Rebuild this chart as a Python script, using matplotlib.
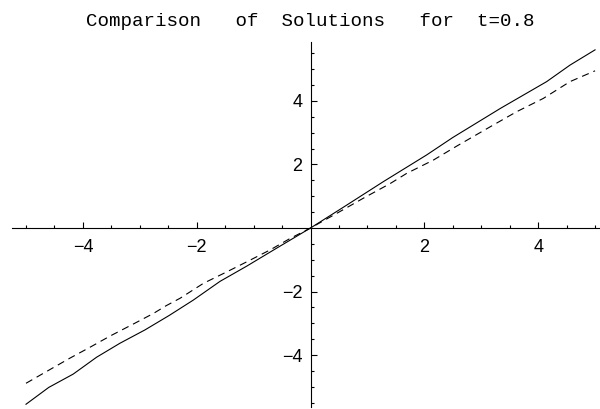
import numpy as np
import matplotlib.pyplot as plt

# approximate solution (solid) and reference solution (dashed) at t = 0.8
x_solid = [-5.0, -4.6, -4.17, -3.76, -3.35, -2.91, -2.48, -2.06, -1.59, -1.12,
           -0.6, 0.0, 0.6, 1.28, 2.04, 2.5, 3.34, 4.15, 4.56, 5.0]
y_solid = [-5.55, -5.02, -4.60, -4.07, -3.63, -3.21, -2.75, -2.27, -1.68, -1.20,
           -0.64, 0.0, 0.68, 1.46, 2.30, 2.85, 3.77, 4.61, 5.13, 5.61]

x_dash = [-5.0, -4.64, -4.23, -3.88, -3.52, -3.11, -2.76, -2.54, -2.29, -1.88,
          -1.47, -1.06, -0.71, -0.36, 0.0, 0.46, 0.93, 1.40, 1.69, 2.16,
          2.57, 3.16, 3.62, 4.09, 4.56, 5.0]
y_dash = [-4.89, -4.52, -4.10, -3.76, -3.40, -3.02, -2.69, -2.45, -2.21, -1.74,
          -1.38, -1.01, -0.69, -0.33, 0.0, 0.46, 0.94, 1.40, 1.72, 2.14,
          2.58, 3.19, 3.66, 4.08, 4.61, 4.95]

major = [-4, -2, 2, 4]
title = "Comparison   of  Solutions   for  t=0.8"

fig = plt.figure(figsize=(6.0, 4.09), dpi=100)
ax = fig.add_axes([0, 0, 1, 1])
ax.set_xlim(-5.457, 5.087)
ax.set_ylim(-5.70, 7.18)

ax.plot(x_solid, y_solid, color="black", lw=0.8)
ax.plot(x_dash, y_dash, color="black", lw=0.8, linestyle=(0, (6.5, 4.5)))

for side in ("top", "right"):
    ax.spines[side].set_visible(False)
ax.spines["left"].set_position(("data", 0))
ax.spines["bottom"].set_position(("data", 0))
ax.spines["bottom"].set_bounds(-5.25, 5.09)
ax.spines["left"].set_bounds(-5.64, 5.86)
for side in ("left", "bottom"):
    ax.spines[side].set_linewidth(0.8)

ax.set_xticks(major)
ax.set_yticks(major)
minor = [v for v in np.arange(-5.5, 5.51, 0.5) if v not in major and v != 0]
ax.set_xticks([v for v in minor if abs(v) <= 5], minor=True)
ax.set_yticks(minor, minor=True)
ax.set_xticklabels(["\u22124", "\u22122", "2", "4"])
ax.set_yticklabels(["\u22124", "\u22122", "2", "4"])
ax.tick_params(which="both", direction="in", width=0.8, labelsize=13)
ax.tick_params(which="major", length=4.3)
ax.tick_params(which="minor", length=2.2)
ax.tick_params(axis="x", pad=8)
ax.tick_params(axis="y", pad=6)
for lab in ax.get_xticklabels() + ax.get_yticklabels():
    lab.set_family("Liberation Sans")

fig.text(310 / 600, 1 - 22 / 409, title, family="Liberation Mono",
         fontsize=13.8, ha="center", va="center")

fig.savefig("out.png", dpi=100)
